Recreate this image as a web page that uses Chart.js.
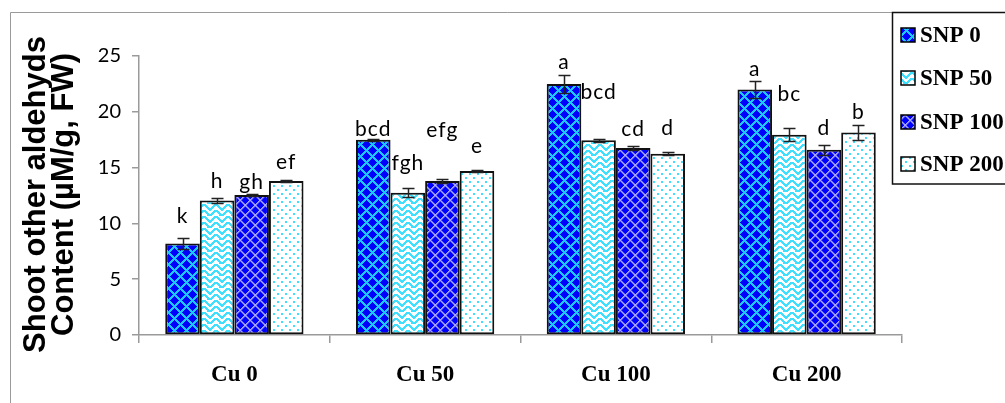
<!DOCTYPE html>
<html>
<head>
<meta charset="utf-8">
<script src="https://cdn.jsdelivr.net/npm/chart.js@4/dist/chart.umd.min.js"></script>
<style>
  html, body { margin: 0; padding: 0; background: #fff; }
  #wrap { width: 1005px; height: 403px; }
</style>
</head>
<body>
<div id="wrap"><canvas id="c" width="1005" height="403"></canvas></div>
<script>
// Copper treatments on the x axis, SNP levels as series
const categories = ['Cu 0', 'Cu 50', 'Cu 100', 'Cu 200'];
const seriesNames = ['SNP 0', 'SNP 50', 'SNP 100', 'SNP 200'];

// Mean content (µM/g, FW)
const snp0   = [8.2, 17.5, 22.5, 22.0];
const snp50  = [12.05, 12.75, 17.45, 17.95];
const snp100 = [12.55, 13.8, 16.75, 16.6];
const snp200 = [13.8, 14.7, 16.25, 18.15];

// Standard errors
const err0   = [0.45, 0.08, 0.8, 0.78];
const err50  = [0.22, 0.38, 0.15, 0.6];
const err100 = [0.1, 0.17, 0.15, 0.45];
const err200 = [0.12, 0.12, 0.12, 0.7];

// Significance letters
const let0   = ['k', 'bcd', 'a', 'a'];
const let50  = ['h', 'fgh', 'bcd', 'bc'];
const let100 = ['gh', 'efg', 'cd', 'd'];
const let200 = ['ef', 'e', 'd', 'b'];

const yTickValues = [0, 5, 10, 15, 20, 25];
const yTitleLines = ['Shoot other aldehyds', 'Content (\u00b5M/g, FW)'];

// ---- fill patterns ----
const mainCtx = document.getElementById('c').getContext('2d');
function makePattern(size, bg, draw) {
  const t = document.createElement('canvas');
  t.width = t.height = size;
  const g = t.getContext('2d');
  g.fillStyle = bg;
  g.fillRect(0, 0, size, size);
  draw(g, size);
  return mainCtx.createPattern(t, 'repeat');
}
function lattice(color, w) {
  return (g, s) => {
    g.fillStyle = color;
    for (let i = 0; i < s; i++) {
      g.fillRect(i, i, w, w);
      g.fillRect(s - 1 - i, i, w, w);
    }
  };
}
const patDiamond = makePattern(12, '#0000ff', lattice('#19c8ff', 2));
const patLattice = makePattern(10, '#0000ff', lattice('#a8a8ff', 1.5));
const patWeave = makePattern(12, '#ffffff', (g) => {
  g.fillStyle = '#3ee0ff';
  // interlocking zig-zag strokes
  const px = [[0,0],[1,1],[2,2],[3,3],[4,4],[5,5],[6,4],[7,3],[8,2],[9,1],[10,0],
              [0,6],[1,7],[2,8],[3,9],[6,10],[7,9],[8,8],[9,7],[10,6],[11,6],
              [4,10],[5,11],[11,0],[3,10]];
  px.forEach(([x, y]) => g.fillRect(x, y, 2, 2));
});
const patDots = makePattern(8, '#ffffff', (g) => {
  g.fillStyle = '#3ee0ff';
  g.fillRect(1, 1, 2, 2);
  g.fillRect(5, 5, 2, 2);
});

const fills = [patDiamond, patWeave, patLattice, patDots];
const values = [snp0, snp50, snp100, snp200];
const errors = [err0, err50, err100, err200];
const letters = [let0, let50, let100, let200];

// extra lift (px) of each letter above its error bar
const letterLift = [
  [22, 10, 13, 12],
  [17, 25, 46, 34],
  [12, 49, 17, 16],
  [17, 23, 24, 12]
];

const errorBarPlugin = {
  id: 'errorBars',
  afterDatasetsDraw(chart) {
    const { ctx, scales: { y } } = chart;
    ctx.save();
    ctx.strokeStyle = '#222';
    ctx.lineWidth = 1.5;
    chart.data.datasets.forEach((ds, i) => {
      const meta = chart.getDatasetMeta(i);
      meta.data.forEach((bar, j) => {
        const v = ds.data[j], e = errors[i][j];
        const yt = Math.round(y.getPixelForValue(v + e)) + 0.5;
        const yb = Math.round(y.getPixelForValue(v - e)) + 0.5;
        const x = Math.round(bar.x) + 0.5;
        ctx.beginPath();
        ctx.moveTo(x, yt); ctx.lineTo(x, yb);
        ctx.moveTo(x - 6, yt); ctx.lineTo(x + 6, yt);
        ctx.moveTo(x - 6, yb); ctx.lineTo(x + 6, yb);
        ctx.stroke();
      });
    });
    ctx.restore();
  }
};

const letterPlugin = {
  id: 'letters',
  afterDatasetsDraw(chart) {
    const { ctx, scales: { y } } = chart;
    ctx.save();
    ctx.fillStyle = '#000';
    ctx.font = '21px Lato';
    if ('letterSpacing' in ctx) ctx.letterSpacing = '1px';
    ctx.textAlign = 'center';
    ctx.textBaseline = 'middle';
    chart.data.datasets.forEach((ds, i) => {
      const meta = chart.getDatasetMeta(i);
      meta.data.forEach((bar, j) => {
        const top = y.getPixelForValue(ds.data[j] + errors[i][j]);
        ctx.fillText(letters[i][j], bar.x, top - letterLift[i][j]);
      });
    });
    ctx.restore();
  }
};

const framePlugin = {
  id: 'frame',
  beforeDraw(chart) {
    const { ctx } = chart;
    ctx.save();
    ctx.strokeStyle = '#9a9a9a';
    ctx.lineWidth = 1;
    ctx.beginPath();
    ctx.moveTo(10.5, 403);
    ctx.lineTo(10.5, 12.5);
    ctx.lineTo(1005, 12.5);
    ctx.stroke();
    ctx.restore();
  },
  afterDraw(chart) {
    const { ctx, chartArea } = chart;
    // y axis title, two rotated lines
    ctx.save();
    ctx.fillStyle = '#000';
    ctx.font = 'bold 31px "Liberation Sans", Arial, sans-serif';
    ctx.textAlign = 'center';
    ctx.textBaseline = 'middle';
    const cy = (chartArea.top + chartArea.bottom) / 2 - 1;
    yTitleLines.forEach((line, k) => {
      ctx.save();
      ctx.translate(36 + k * 28, cy);
      ctx.rotate(-Math.PI / 2);
      ctx.fillText(line, 0, 0);
      ctx.restore();
    });
    ctx.restore();

    // legend box
    ctx.save();
    ctx.fillStyle = '#fff';
    ctx.fillRect(892.5, 12.5, 120, 171.5);
    ctx.strokeStyle = '#111';
    ctx.lineWidth = 1.5;
    ctx.strokeRect(892.5, 12.5, 120, 171.5);
    const rows = [35, 78, 122, 164];
    chart.data.datasets.forEach((ds, i) => {
      const cyRow = rows[i];
      ctx.fillStyle = ds.backgroundColor;
      ctx.fillRect(901, cyRow - 7, 14, 14);
      ctx.lineWidth = 1.5;
      ctx.strokeStyle = '#000';
      ctx.strokeRect(901, cyRow - 7, 14, 14);
      ctx.fillStyle = '#000';
      ctx.font = 'bold 23px "Liberation Serif", "Times New Roman", serif';
      ctx.textAlign = 'left';
      ctx.textBaseline = 'middle';
      ctx.fillText(ds.label, 920, cyRow + 1);
    });
    ctx.restore();
  }
};

new Chart(document.getElementById('c'), {
  type: 'bar',
  data: {
    labels: categories,
    datasets: seriesNames.map((name, i) => ({
      label: name,
      data: values[i],
      backgroundColor: fills[i],
      borderColor: '#111',
      borderWidth: 2,
      borderSkipped: false,
      categoryPercentage: 0.725,
      barPercentage: 1.0
    }))
  },
  options: {
    responsive: false,
    animation: false,
    devicePixelRatio: 1,
    layout: { padding: { top: 56, right: 103, bottom: 0, left: 0 } },
    plugins: {
      legend: { display: false },
      tooltip: { enabled: false },
      title: { display: false }
    },
    scales: {
      x: {
        afterFit: (s) => { s.height = 68; },
        grid: { drawOnChartArea: false, offset: true, tickLength: 8, color: '#9a9a9a', lineWidth: 1.5 },
        border: { color: '#9a9a9a', width: 1.5 },
        ticks: {
          color: '#000',
          padding: 18,
          font: { family: '"Liberation Serif", "Times New Roman", serif', size: 23, weight: 'bold' }
        }
      },
      y: {
        min: 0,
        max: 25,
        afterFit: (s) => { s.width = 139; },
        afterBuildTicks: (s) => { s.ticks = yTickValues.map(v => ({ value: v })); },
        grid: { drawOnChartArea: false, tickLength: 7, color: '#9a9a9a', lineWidth: 1.5 },
        border: { color: '#9a9a9a', width: 1.5 },
        ticks: {
          color: '#000',
          padding: 11,
          font: { family: 'Lato', size: 20 }
        }
      }
    }
  },
  plugins: [framePlugin, errorBarPlugin, letterPlugin]
});
</script>
</body>
</html>
